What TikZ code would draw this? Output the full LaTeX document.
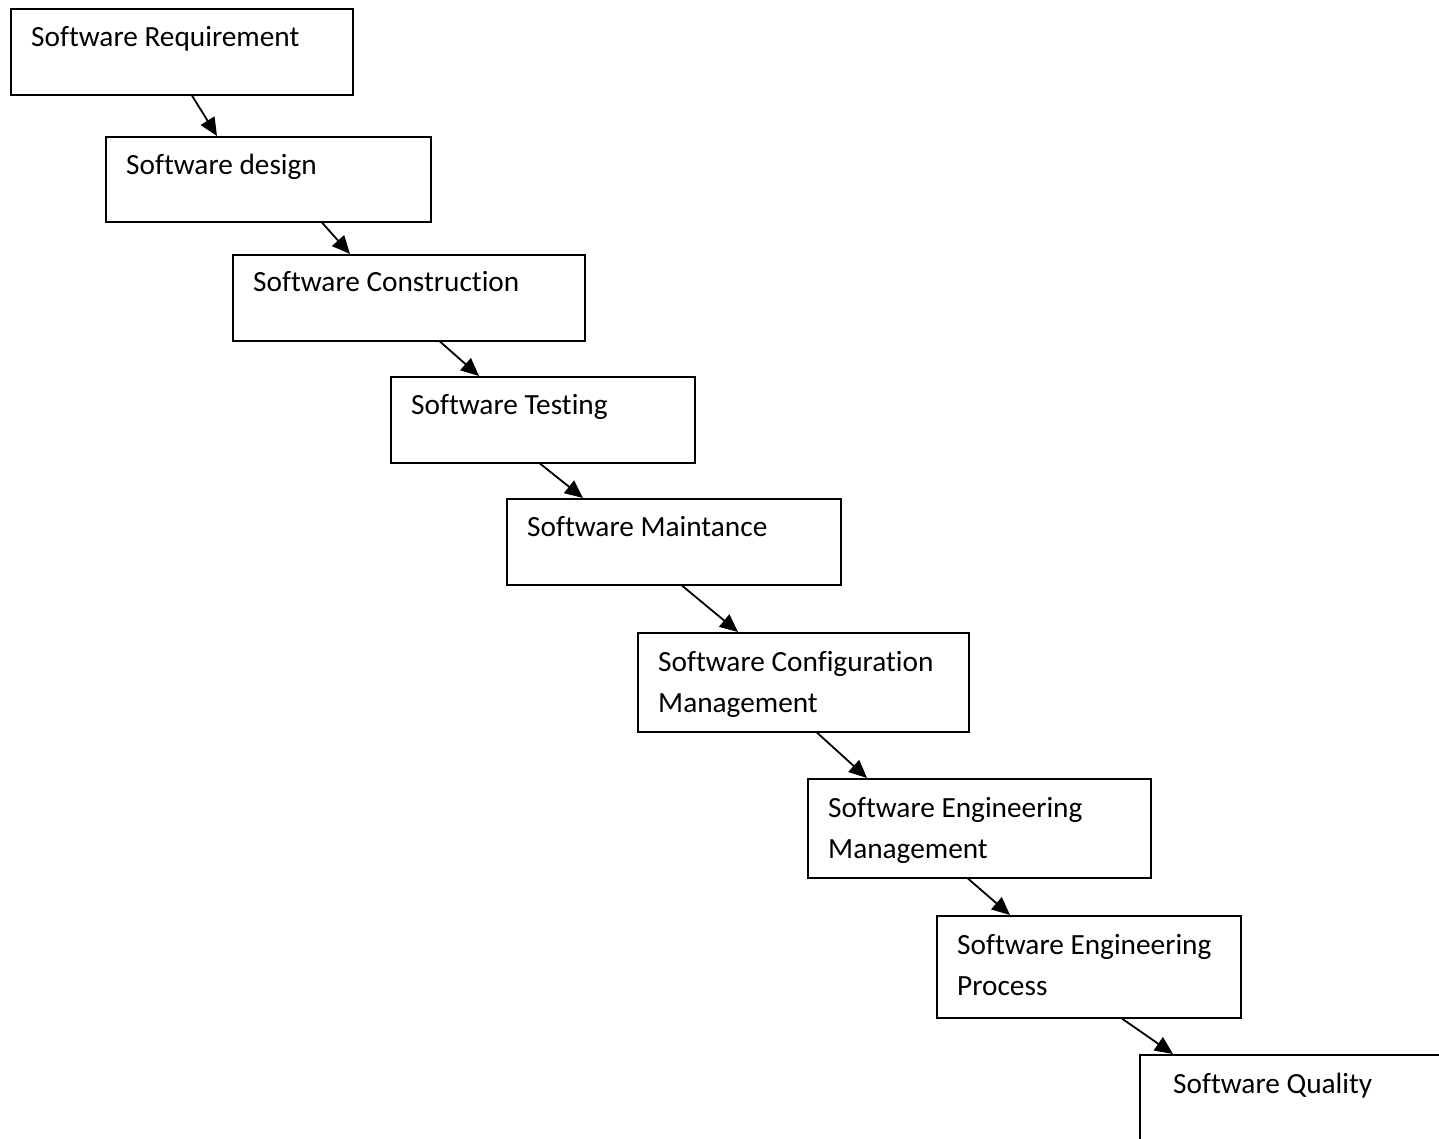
\documentclass[tikz,border=0pt]{standalone}
\usepackage{fontspec}
\setmainfont[Ligatures=NoCommon]{Carlito}
\usetikzlibrary{arrows.meta,calc}
\tikzset{
  box/.style={draw=black, line width=1.6pt, rectangle, anchor=north west, inner sep=0pt, fill=none},
  lbl/.style={anchor=base west, inner sep=0pt, font=\fontsize{29.3}{41}\selectfont},
  arr/.style={line width=1.8pt, -{Triangle[length=18pt,width=16pt]}},
}
\newcommand{\twolines}[2]{\vtop{\hbox{#1}\hbox{#2}}}
\begin{document}
\begin{tikzpicture}[x=1pt,y=-1pt]
\useasboundingbox (0,0) rectangle (1439,1139);
\fill[white] (0,0) rectangle (1439,1139);
% boxes
\node[box, minimum width=342, minimum height=86] (b1) at (10,8) {};
\node[box, minimum width=325, minimum height=85] (b2) at (105,136) {};
\node[box, minimum width=352, minimum height=86] (b3) at (232,254) {};
\node[box, minimum width=304, minimum height=86] (b4) at (390,376) {};
\node[box, minimum width=334, minimum height=86] (b5) at (506,498) {};
\node[box, minimum width=331, minimum height=99] (b6) at (637,632) {};
\node[box, minimum width=343, minimum height=99] (b7) at (807,778) {};
\node[box, minimum width=304, minimum height=102] (b8) at (936,915) {};
\node[box, minimum width=330, minimum height=110] (b9) at (1139,1054) {};
% labels
\node[lbl] (t1) at ($(b1.north west)+(21,39)$) {Software Requirement};
\node[lbl] (t2) at ($(b2.north west)+(21,39)$) {Software design};
\node[lbl] (t3) at ($(b3.north west)+(21,38)$) {Software Construction};
\node[lbl] (t4) at ($(b4.north west)+(21,38)$) {Software Testing};
\node[lbl] (t5) at ($(b5.north west)+(21,38)$) {Software Maintance};
\node[lbl] (t6) at ($(b6.north west)+(21,39)$) {\twolines{Software Configuration}{Management}};
\node[lbl] (t7) at ($(b7.north west)+(21,39)$) {\twolines{Software Engineering}{Management}};
\node[lbl] (t8) at ($(b8.north west)+(21,39)$) {\twolines{Software Engineering}{Process}};
\node[lbl] (t9) at ($(b9.north west)+(34,39)$) {Software Quality};
% arrows
\draw[arr] ($(b1.south west)+(182,0)$) -- ($(b2.north west)+(112,0)$);
\draw[arr] ($(b2.south west)+(217,0)$) -- ($(b3.north west)+(118,0)$);
\draw[arr] ($(b3.south west)+(208,0)$) -- ($(b4.north west)+(89,0)$);
\draw[arr] ($(b4.south west)+(150,0)$) -- ($(b5.north west)+(77,0)$);
\draw[arr] ($(b5.south west)+(176,0)$) -- ($(b6.north west)+(101,0)$);
\draw[arr] ($(b6.south west)+(180,0)$) -- ($(b7.north west)+(60,0)$);
\draw[arr] ($(b7.south west)+(161,0)$) -- ($(b8.north west)+(74,0)$);
\draw[arr] ($(b8.south west)+(186,0)$) -- ($(b9.north west)+(34,0)$);
\end{tikzpicture}
\end{document}
